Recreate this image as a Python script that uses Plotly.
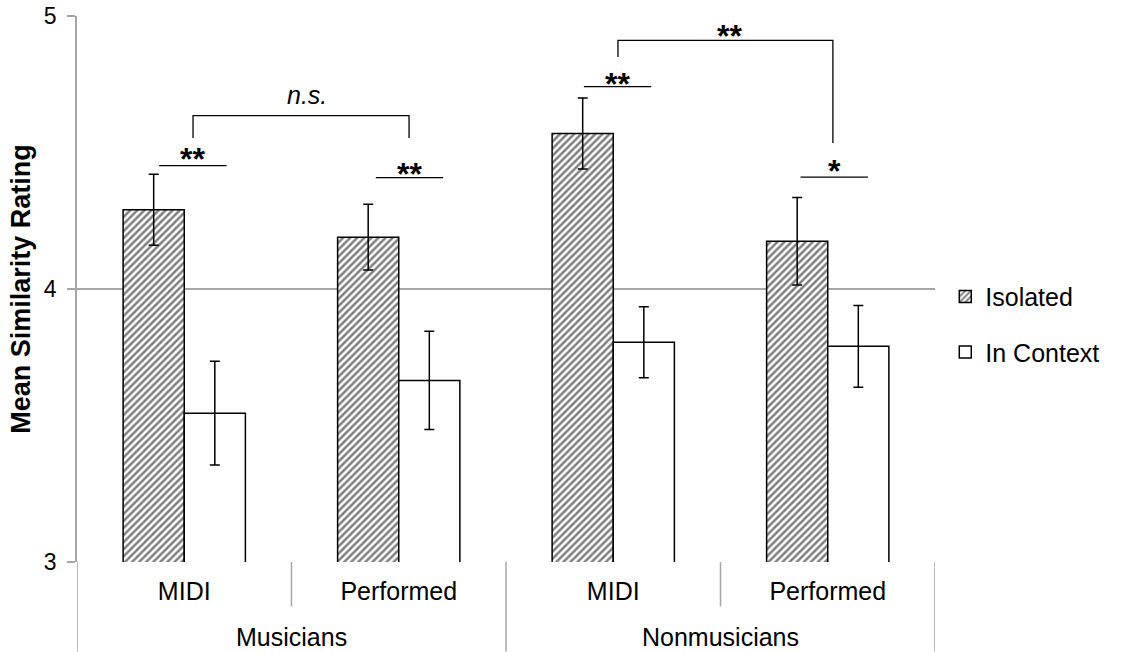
import plotly.graph_objects as go

# ---------------- data ----------------
groups = ["Musicians", "Nonmusicians"]
conditions = ["MIDI", "Performed", "MIDI", "Performed"]
x_pos = [0, 1, 2, 3]
isolated = [4.29, 4.19, 4.57, 4.175]
isolated_err = [0.13, 0.12, 0.13, 0.16]
context = [3.545, 3.665, 3.805, 3.79]
context_err = [0.19, 0.18, 0.13, 0.15]
y_ticks = [3, 4, 5]

# significance marks: (x, y of line, label, label y)
pair_marks = [(0.04, 4.452, "**", 4.506), (1.05, 4.408, "**", 4.451),
              (2.02, 4.741, "**", 4.780), (3.03, 4.410, "*", 4.462)]
brackets = [  # x0, x1, y, y_left_end, y_right_end, label, label_x, label_y
    (0.041, 1.048, 4.635, 4.553, 4.553, "<i>n.s.</i>", 0.57, 4.711),
    (2.022, 3.024, 4.911, 4.850, 4.535, "**", 2.54, 4.956),
]

FONT = "Liberation Sans, Arial, Helvetica, sans-serif"
GRID = "#a6a6a6"

fig = go.Figure()
fig.add_trace(go.Bar(
    x=x_pos, y=isolated, name="Isolated",
    marker=dict(color="white", line=dict(color="black", width=1.5),
                pattern=dict(shape="/", fgcolor="black", bgcolor="white",
                             size=5, solidity=0.5)),
    error_y=dict(type="data", array=isolated_err, color="black",
                 thickness=1.5, width=5),
    legendgroup="a",
))
fig.add_trace(go.Bar(
    x=x_pos, y=context, name="In Context",
    marker=dict(color="white", line=dict(color="black", width=1.5)),
    error_y=dict(type="data", array=context_err, color="black",
                 thickness=1.5, width=5),
    legendgroup="b",
))

STAR_FONT = dict(family=FONT, size=32, color="black", weight="bold")
shapes = []
annotations = []
for cx, ly, lab, sy in pair_marks:
    shapes.append(dict(type="line", xref="x", yref="y", x0=cx - 0.157, x1=cx + 0.157,
                       y0=ly, y1=ly, line=dict(color="black", width=1.3)))
    annotations.append(dict(x=cx, y=sy, xref="x", yref="y", text=lab, showarrow=False,
                            font=STAR_FONT, yanchor="middle", yshift=-8))
for x0, x1, yb, yl, yr, lab, lx, ly in brackets:
    shapes.append(dict(type="path", xref="x", yref="y",
                       path=f"M {x0},{yl} L {x0},{yb} L {x1},{yb} L {x1},{yr}",
                       line=dict(color="black", width=1.3)))
    is_star = "*" in lab
    annotations.append(dict(x=lx, y=ly, xref="x", yref="y", text=lab,
                            showarrow=False,
                            font=STAR_FONT if is_star else dict(family=FONT, size=25, color="black"),
                            yanchor="middle", yshift=-8 if is_star else 0))

# category dividers below the axis
bottom_full = -0.1638
bottom_half = -0.0814
for xb, yb in [(-0.5, bottom_full), (0.5, bottom_half), (1.5, bottom_full),
               (2.5, bottom_half), (3.5, bottom_full)]:
    shapes.append(dict(type="line", xref="x", yref="paper", x0=xb, x1=xb,
                       y0=0, y1=yb, line=dict(color=GRID, width=1.5)))

for i, g in enumerate(groups):
    annotations.append(dict(x=2 * i + 0.5, y=-0.138, xref="x", yref="paper", text=g,
                            showarrow=False, yanchor="middle",
                            font=dict(family=FONT, size=25, color="black")))

fig.update_layout(
    width=1130, height=652,
    margin=dict(l=77, r=195, t=16, b=89.5, autoexpand=False),
    paper_bgcolor="white", plot_bgcolor="white",
    barmode="group", bargap=0.43, bargroupgap=0,
    font=dict(family=FONT, size=25, color="black"),
    shapes=shapes, annotations=annotations,
    legend=dict(x=1.012, y=0.528, xanchor="left", yanchor="top",
                font=dict(family=FONT, size=25, color="black"),
                traceorder="grouped", tracegroupgap=20, itemwidth=30,
                bgcolor="rgba(0,0,0,0)"),
    xaxis=dict(range=[-0.5, 3.5], tickmode="array", tickvals=x_pos, ticktext=conditions,
               showgrid=False, zeroline=False, showline=False, ticks="",
               ticklabelstandoff=12, automargin=False,
               tickfont=dict(family=FONT, size=25, color="black"), fixedrange=True),
    yaxis=dict(range=[3, 5], tickmode="array", tickvals=y_ticks,
               showgrid=True, gridcolor=GRID, gridwidth=1.5,
               showline=True, linecolor=GRID, linewidth=1.5,
               ticks="outside", ticklen=8, tickcolor=GRID, tickwidth=1.5,
               zeroline=False, ticklabelstandoff=6, automargin=False,
               tickfont=dict(family=FONT, size=23, color="black"),
               title=dict(text="<b>Mean Similarity Rating</b>", standoff=5,
                          font=dict(family=FONT, size=27, color="black")),
               fixedrange=True),
)

fig.write_html("out.html", config={"displayModeBar": False},
               post_script="document.body.style.margin='0';")
